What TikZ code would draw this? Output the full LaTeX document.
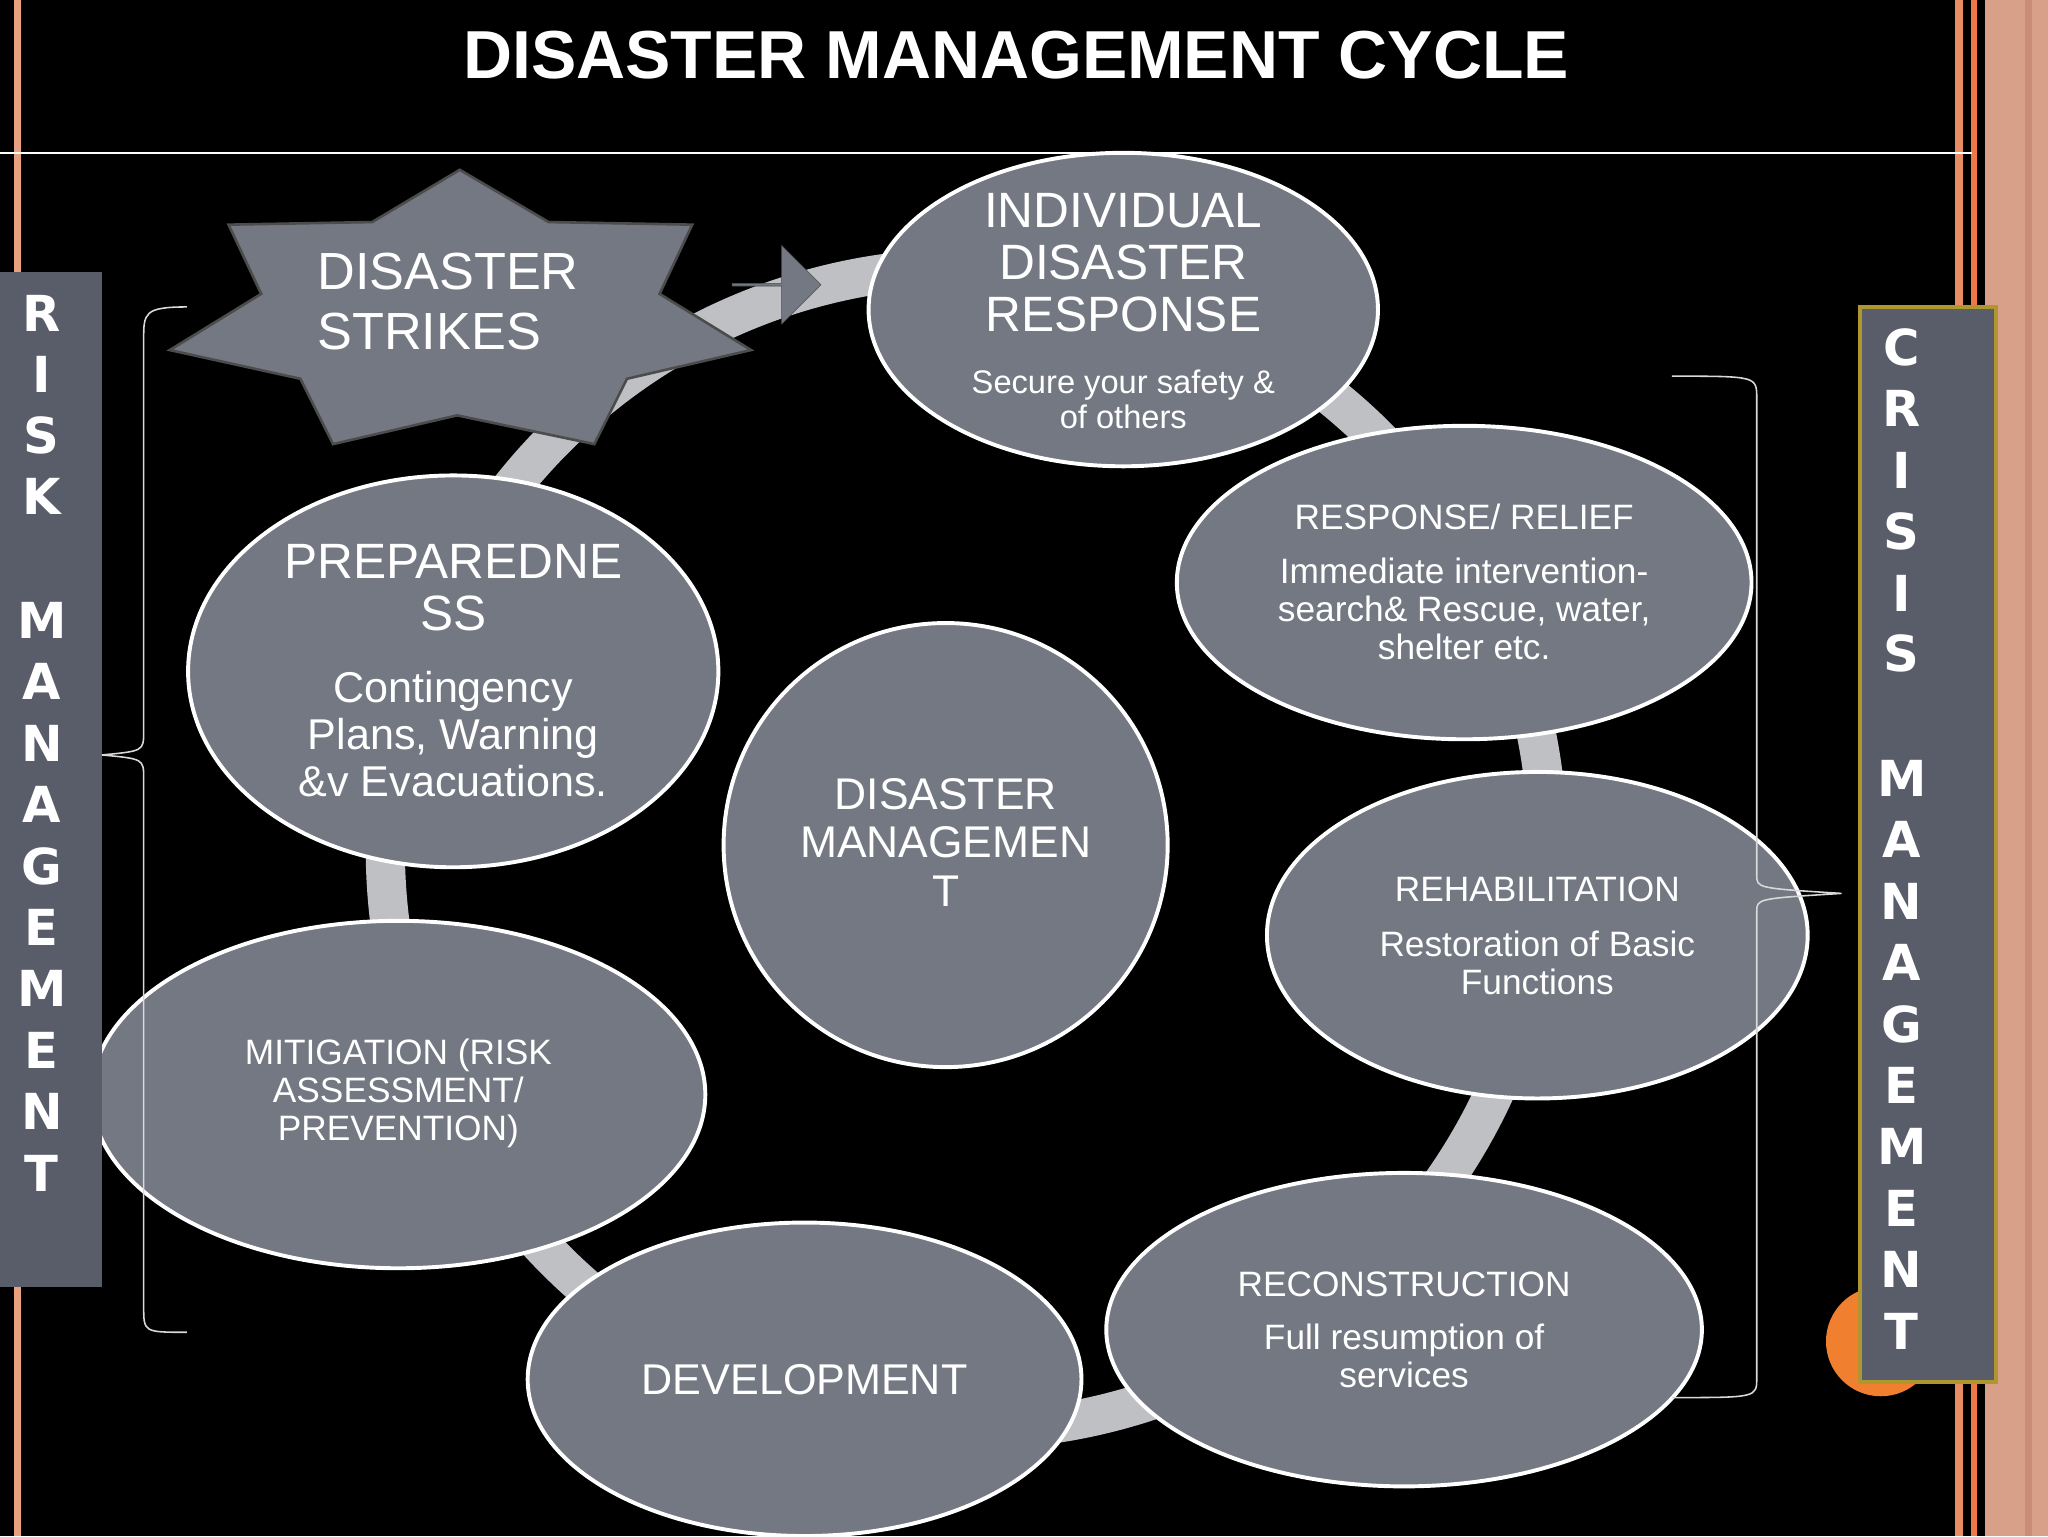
\documentclass[tikz,border=0pt]{standalone}
\usepackage{fontspec}
\setmainfont{Liberation Sans}
\newfontfamily\heavy{DejaVu Sans}
\begin{document}
\begin{tikzpicture}[x=1pt,y=-1pt,
  bub/.style={ellipse, fill=bubgrey, draw=white, line width=3pt, inner sep=0pt},
  txt/.style={text=white, align=center, inner sep=0pt},
  side/.style={text=white, font=\heavy\bfseries\fontsize{38}{38}\selectfont, inner sep=0pt}]
\definecolor{bubgrey}{HTML}{737882}
\definecolor{sidegrey}{HTML}{585D69}
\definecolor{ringgrey}{HTML}{BEC0C4}
\usetikzlibrary{shapes.geometric,shapes.arrows}
\fill[black] (0,0) rectangle (1568,1176);
\useasboundingbox (0,0) rectangle (1568,1176);
% decorative stripes
\fill[fill={rgb,255:red,232;green,160;blue,128}] (11,0) rectangle (16,1176);
\fill[fill={rgb,255:red,232;green,140;blue,100}] (1497,0) rectangle (1503,1176);
\fill[fill={rgb,255:red,240;green,120;blue,70}] (1509,0) rectangle (1514,1176);
\fill[fill={rgb,255:red,216;green,160;blue,136}] (1520,0) rectangle (1568,1176);
\fill[fill={rgb,255:red,200;green,140;blue,120}] (1550,0) rectangle (1556,1176);
\draw[white, line width=1.5pt] (0,117) -- (1510,117);
\node[txt, font=\bfseries\fontsize{52}{52}\selectfont] (title) at (778,42) {DISASTER MANAGEMENT CYCLE};
% ring
\draw[ringgrey, line width=30pt] (740,650) circle (445);
% star
\filldraw[fill=bubgrey, draw=gray!60!black, line width=2pt]
 (352,130) -- (420,170) -- (530,172) -- (505,225) -- (575,268) -- (480,290) -- (455,340)
 -- (350,318) -- (255,340) -- (230,290) -- (130,268) -- (200,225) -- (175,172) -- (285,170) -- cycle;
\node[txt, font=\fontsize{40}{46}\selectfont, align=left] (strike) at (343,231) {DISASTER\\STRIKES};
\node[single arrow, fill=bubgrey, draw=gray!60!black, minimum height=68pt, minimum width=60pt, single arrow head extend=6pt, inner sep=0pt] (arr) at (594,218) {};
% bubbles
\node[bub, minimum width=390pt, minimum height=240pt] (ind) at (860,237) {};
\node[txt, font=\fontsize{38}{40}\selectfont] at (860,201) {INDIVIDUAL\\DISASTER\\RESPONSE};
\node[txt, font=\fontsize{25}{27}\selectfont] at (860,306) {Secure your safety \&\\of others};
\node[bub, minimum width=440pt, minimum height=240pt] (rel) at (1121,446) {};
\node[txt, font=\fontsize{27}{29}\selectfont] at (1121,396) {RESPONSE/ RELIEF};
\node[txt, font=\fontsize{27}{29}\selectfont] at (1121,466) {Immediate intervention-\\search\& Rescue, water,\\shelter etc.};
\node[bub, minimum width=414pt, minimum height=250pt] (reh) at (1177,716) {};
\node[txt, font=\fontsize{27}{29}\selectfont] at (1177,681) {REHABILITATION};
\node[txt, font=\fontsize{27}{29}\selectfont] at (1177,737) {Restoration of Basic\\Functions};
\node[bub, minimum width=456pt, minimum height=240pt] (rec) at (1075,1018) {};
\node[txt, font=\fontsize{27}{29}\selectfont] at (1075,983) {RECONSTRUCTION};
\node[txt, font=\fontsize{27}{29}\selectfont] at (1075,1038) {Full resumption of\\services};
\node[bub, minimum width=424pt, minimum height=240pt] (dev) at (616,1056) {};
\node[txt, font=\fontsize{33}{35}\selectfont] at (616,1056) {DEVELOPMENT};
\node[bub, minimum width=470pt, minimum height=266pt] (mit) at (305,838) {};
\node[txt, font=\fontsize{27}{29}\selectfont] at (305,837) {MITIGATION (RISK\\ASSESSMENT/\\PREVENTION)};
\node[bub, minimum width=406pt, minimum height=300pt] (prep) at (347,514) {};
\node[txt, font=\fontsize{38}{40}\selectfont] at (347,450) {PREPAREDNE\\SS};
\node[txt, font=\fontsize{33}{36}\selectfont] at (347,562) {Contingency\\Plans, Warning\\\&v Evacuations.};
\node[bub, circle, minimum size=340pt] (dm) at (724,647) {};
\node[txt, font=\fontsize{34}{37}\selectfont] at (724,645) {DISASTER\\MANAGEMEN\\T};
% brackets
\draw[white!85!black, line width=1.2pt] (143,235) .. controls (110,235) and (110,240) .. (110,260) -- (110,560) .. controls (110,575) .. (78,578) .. controls (110,581) .. (110,596) -- (110,1000) .. controls (110,1020) .. (143,1020);
\draw[white!85!black, line width=1.2pt] (1280,288) .. controls (1345,288) .. (1345,305) -- (1345,670) .. controls (1345,680) .. (1410,684) .. controls (1345,688) .. (1345,698) -- (1345,1055) .. controls (1345,1070) .. (1280,1070);
% sidebars
\fill[sidegrey] (0,208) rectangle (78,985);
\foreach \l/\y in {R/240,I/287,S/333,K/380,M/475,A/522,N/569,A/616,G/663,E/710,M/757,E/804,N/851,T/898}
  \node[side] at (32,\y) {\l};
\fill[fill={rgb,255:red,240;green,128;blue,48}] (1440,1027) circle (42);
\filldraw[fill=sidegrey, draw={rgb,255:red,176;green,150;blue,47}, line width=3pt] (1424,235) rectangle (1528,1058);
\foreach \l/\y in {C/266,R/313,I/360,S/407,I/454,S/500,M/596,A/643,N/690,A/737,G/784,E/831,M/878,E/925,N/972,T/1019}
  \node[side] at (1456,\y) {\l};
\end{tikzpicture}
\end{document}
